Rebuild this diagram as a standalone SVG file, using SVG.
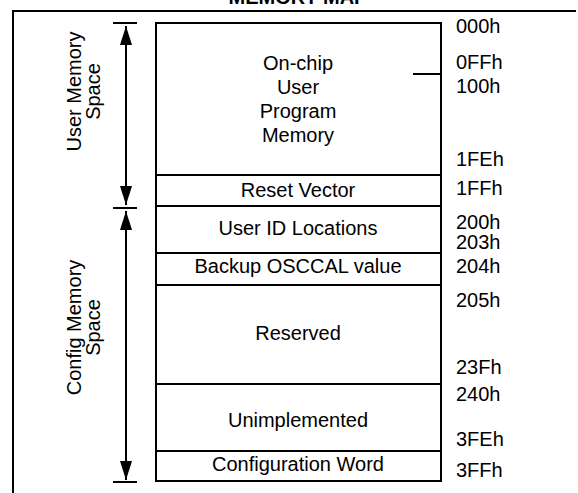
<svg xmlns="http://www.w3.org/2000/svg" width="578" height="493" viewBox="0 0 578 493">
<style>
text{font-family:"Liberation Sans",Arial,sans-serif;font-size:20px;fill:#000}
.c{text-anchor:middle}
.ln{stroke:#000;stroke-width:2;fill:none}
.t{font-weight:bold}
</style>
<defs>
<marker id="ah" viewBox="0 0 19 12" refX="19" refY="6" markerWidth="19" markerHeight="12" markerUnits="userSpaceOnUse" orient="auto">
<path d="M0,0 L19,6 L0,12 Z" fill="#000"/>
</marker>
</defs>
<rect width="578" height="493" fill="#fff"/>
<text class="c t" x="298" y="4">MEMORY MAP</text>
<g id="frame">
<path class="ln" d="M576,11 H13 V493"/>
</g>
<g id="memory-box">
<rect class="ln" x="156" y="23" width="285" height="458"/>
<line class="ln" x1="413" y1="74" x2="441" y2="74"/>
</g>
<g id="user-program-memory">
<text class="c" x="298" y="70">On-chip</text>
<text class="c" x="298" y="94">User</text>
<text class="c" x="298" y="118">Program</text>
<text class="c" x="298" y="142">Memory</text>
</g>
<g id="reset-vector">
<line class="ln" x1="156" y1="175" x2="441" y2="175"/>
<text class="c" x="298" y="197">Reset Vector</text>
</g>
<g id="user-id">
<line class="ln" x1="156" y1="206" x2="441" y2="206"/>
<text class="c" x="298" y="235">User ID Locations</text>
</g>
<g id="backup-osccal">
<line class="ln" x1="156" y1="253" x2="441" y2="253"/>
<text class="c" x="298" y="273">Backup OSCCAL value</text>
</g>
<g id="reserved">
<line class="ln" x1="156" y1="285" x2="441" y2="285"/>
<text class="c" x="298" y="340">Reserved</text>
</g>
<g id="unimplemented">
<line class="ln" x1="156" y1="384" x2="441" y2="384"/>
<text class="c" x="298" y="427">Unimplemented</text>
</g>
<g id="config-word">
<line class="ln" x1="156" y1="451" x2="441" y2="451"/>
<text class="c" x="298" y="471">Configuration Word</text>
</g>
<g id="addresses">
<text x="456" y="33">000h</text>
<text x="456" y="69">0FFh</text>
<text x="456" y="93">100h</text>
<text x="456" y="166">1FEh</text>
<text x="456" y="195">1FFh</text>
<text x="456" y="229">200h</text>
<text x="456" y="249">203h</text>
<text x="456" y="273">204h</text>
<text x="456" y="307">205h</text>
<text x="456" y="374">23Fh</text>
<text x="456" y="401">240h</text>
<text x="456" y="446">3FEh</text>
<text x="456" y="477">3FFh</text>
</g>
<g id="user-memory-space">
<text class="c" transform="translate(81,91.5) rotate(-90)">User Memory</text>
<text class="c" transform="translate(100,91.5) rotate(-90)">Space</text>
</g>
<g id="config-memory-space">
<text class="c" transform="translate(81,327.5) rotate(-90)">Config Memory</text>
<text class="c" transform="translate(100,327.5) rotate(-90)">Space</text>
</g>
<g id="connectors">
<line class="ln" x1="113" y1="23" x2="137" y2="23"/>
<line class="ln" x1="113" y1="208" x2="137" y2="208"/>
<line class="ln" x1="113" y1="482" x2="137" y2="482"/>
<line class="ln" x1="126" y1="115" x2="126" y2="26" marker-end="url(#ah)"/>
<line class="ln" x1="126" y1="115" x2="126" y2="205" marker-end="url(#ah)"/>
<line class="ln" x1="126" y1="345" x2="126" y2="211" marker-end="url(#ah)"/>
<line class="ln" x1="126" y1="345" x2="126" y2="480" marker-end="url(#ah)"/>
</g>
</svg>
